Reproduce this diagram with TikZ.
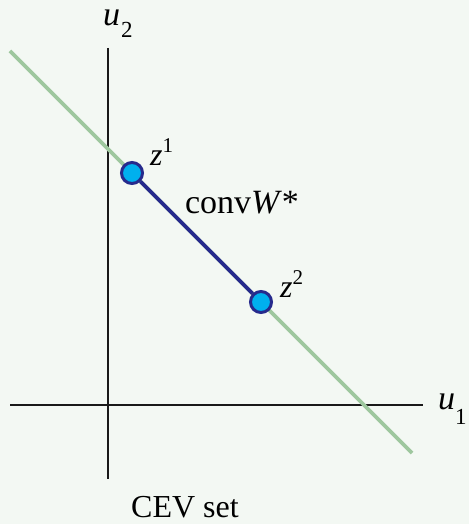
\documentclass[tikz,border=0pt]{standalone}
\usepackage{fontspec}
\setmainfont{Liberation Serif}
\definecolor{bg}{HTML}{F3F8F3}
\definecolor{gline}{HTML}{9EC79E}
\definecolor{seg}{HTML}{262A8C}
\definecolor{dotfill}{HTML}{00B0EE}
\newcommand{\subfs}{\fontsize{23}{23}\selectfont}
\newcommand{\supfs}{\fontsize{21}{21}\selectfont}
\begin{document}
\begin{tikzpicture}[x=1pt,y=-1pt,
  axis/.style={line width=1.6pt,black!90},
  lbl/.style={font=\fontsize{32}{32}\selectfont,inner sep=0pt,anchor=base west},
  big/.style={font=\fontsize{34}{34}\selectfont,inner sep=0pt,anchor=base west},
  pt/.style={circle,fill=dotfill,draw=seg,line width=3pt,minimum size=21pt,inner sep=0pt}]
\fill[bg] (0,0) rectangle (469,524);
\useasboundingbox (0,0) rectangle (469,524);
\coordinate (ytop) at (108,48);
\coordinate (ybot) at (108,479);
\coordinate (xl) at (10,405);
\coordinate (xr) at (423,405);
\coordinate (ga) at (10,51);
\coordinate (gb) at (412,453);
\draw[axis] (ytop) -- (ybot);
\draw[axis] (xl) -- (xr);
\draw[gline,line width=3.6pt] (ga) -- (gb);
\node[pt] (z1) at (132,173) {};
\node[pt] (z2) at (261,302) {};
\draw[seg,line width=3.6pt] (z1) -- (z2);
\node[big] (u2) at (103,26) {\textit{u}\hspace{1pt}\raisebox{-12pt}{\subfs 2}};
\node[big] (u1) at (438,409) {\textit{u}\raisebox{-15pt}{\subfs 1}};
\node[lbl] (l1) at (150,165) {\textit{z}\raisebox{13pt}{\supfs 1}};
\node[lbl] (l2) at (280,297) {\textit{z}\raisebox{13pt}{\supfs 2}};
\node[big,anchor=base] (cw) at (242,213) {conv\textit{W}*};
\node[lbl] (cev) at (131,517) {CEV set};
\end{tikzpicture}
\end{document}
